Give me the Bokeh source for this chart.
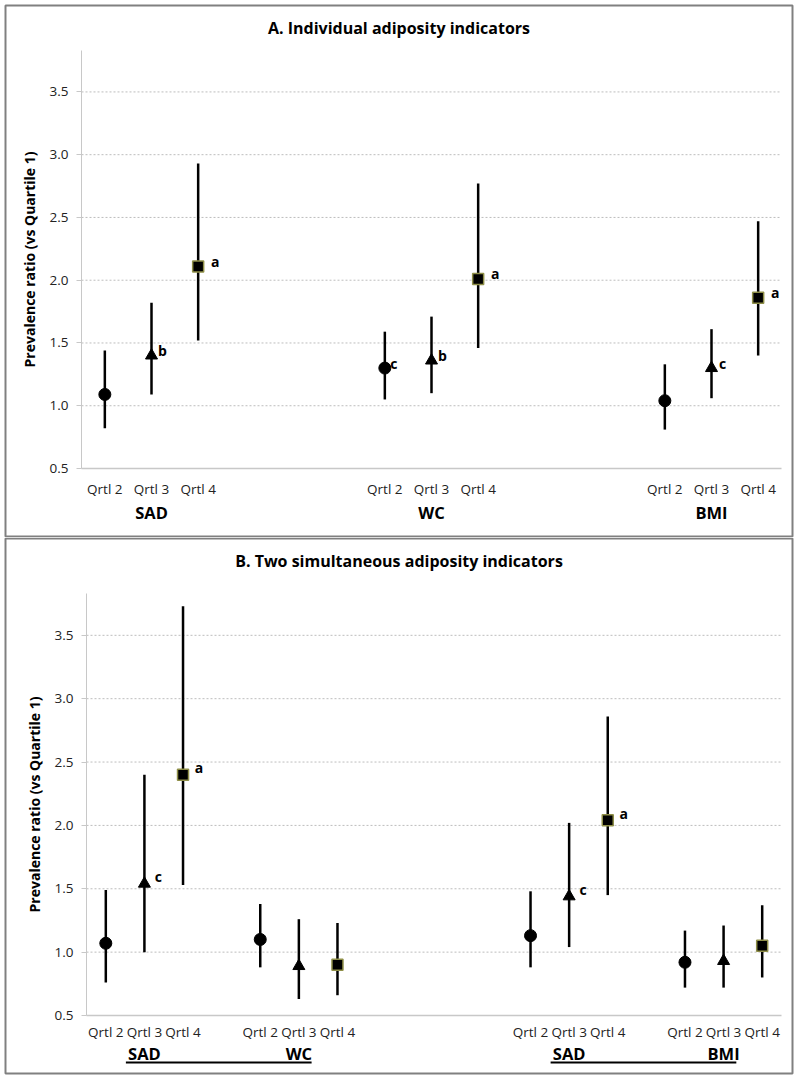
from bokeh.plotting import figure
from bokeh.models import Range1d, FixedTicker, ColumnDataSource, PrintfTickFormatter
from bokeh.layouts import column
from bokeh.embed import file_html
from bokeh.resources import INLINE
from bokeh.core.properties import value

FONT = "Open Sans"

# ---------------- data ----------------
quartile_labels = ["Qrtl 2", "Qrtl 3", "Qrtl 4"]
y_ticks = [0.5, 1.0, 1.5, 2.0, 2.5, 3.0, 3.5]
y_label = "Prevalence ratio (vs Quartile 1)"

# Panel A: individual indicators
a_title = "A. Individual adiposity indicators"
a_groups = ["SAD", "WC", "BMI"]
a_est = [1.09, 1.40, 2.11, 1.30, 1.36, 2.01, 1.04, 1.30, 1.86]
a_low = [0.82, 1.09, 1.52, 1.05, 1.10, 1.46, 0.81, 1.06, 1.40]
a_high = [1.44, 1.82, 2.93, 1.59, 1.71, 2.77, 1.33, 1.61, 2.47]
a_sig = ["", "b", "a", "c", "b", "a", "", "c", "a"]

# Panel B: two simultaneous indicators
b_title = "B. Two simultaneous adiposity indicators"
b_groups = ["SAD", "WC", "SAD", "BMI"]
b_est = [1.07, 1.54, 2.40, 1.10, 0.89, 0.90, 1.13, 1.44, 2.04, 0.92, 0.93, 1.05]
b_low = [0.76, 1.00, 1.53, 0.88, 0.63, 0.66, 0.88, 1.04, 1.45, 0.72, 0.72, 0.80]
b_high = [1.49, 2.40, 3.73, 1.38, 1.26, 1.23, 1.48, 2.02, 2.86, 1.17, 1.21, 1.37]
b_sig = ["", "c", "a", "", "", "", "", "c", "a", "", "", ""]

# ---------------- layout constants ----------------
A_SLOTS, A_STARTS = 15, [0, 6, 12]
B_SLOTS, B_STARTS = 18, [0, 4, 11, 15]
B_PAIRS = [(0, 1), (2, 3)]  # underlined pairs of groups
Y_MIN, Y_MAX = 0.5, 3.83

MARKERS = ["circle", "triangle", "square"]
SIZES = [12, 12, 11]


def make_panel(title, groups, starts, nslots, est, low, high, sig,
               W, H, L, R, T, B, title_py, qlab_standoff,
               group_py, sig_dx, sig_dy, box, pairs=None, underline_py=None):
    # L,R,T,B: pixel edges of the data area inside the canvas
    sx = (R - L) / nslots
    sy = (B - T) / (Y_MAX - Y_MIN)
    x0 = -0.5 - L / sx
    x1 = -0.5 + (W - L) / sx
    y0 = Y_MIN - (H - B) / sy
    y1 = Y_MAX + T / sy

    def to_x(px):
        return x0 + px / sx

    def to_y(py):
        return y1 - py / sy

    p = figure(width=W, height=H, output_backend="svg", toolbar_location=None,
               title=None, x_range=Range1d(x0, x1), y_range=Range1d(y0, y1),
               min_border=0, min_border_left=0, min_border_right=0,
               min_border_top=0, min_border_bottom=0,
               background_fill_color="white", border_fill_color="white")
    p.outline_line_color = None
    p.xgrid.visible = False
    p.ygrid.visible = False

    # panel border
    bl, bt, br, bb = box
    p.quad(left=[to_x(bl)], right=[to_x(br)], top=[to_y(bt)], bottom=[to_y(bb)],
           fill_color=None, line_color="#808080", line_width=2)

    xs = []
    for s in starts:
        xs.extend([s, s + 1, s + 2])
    q = [i % 3 for i in range(len(est))]

    # grid lines (dotted) at the y ticks
    gy = y_ticks[1:]
    p.segment(x0=[-0.5] * len(gy), y0=gy, x1=[nslots - 0.5] * len(gy), y1=gy,
              line_color="#bdbdbd", line_width=1, line_dash="2 2")

    # x axis pinned at y = 0.5
    xa = p.xaxis[0]
    xa.fixed_location = Y_MIN
    xa.bounds = (-0.5, nslots - 0.5)
    xa.ticker = FixedTicker(ticks=xs)
    xa.major_label_overrides = {x: quartile_labels[i % 3] for i, x in enumerate(xs)}
    xa.major_tick_line_color = None
    xa.minor_tick_line_color = None
    xa.axis_line_color = "#c8c8c8"
    xa.axis_line_width = 1.5
    xa.major_label_text_font = FONT
    xa.major_label_text_font_size = "13.5px"
    xa.major_label_text_color = "#222222"
    xa.major_label_standoff = qlab_standoff

    # y axis pinned at left edge of the data area
    ya = p.yaxis[0]
    ya.fixed_location = -0.5
    ya.bounds = (Y_MIN, Y_MAX)
    ya.ticker = FixedTicker(ticks=y_ticks)
    ya.formatter = PrintfTickFormatter(format="%.1f")
    ya.axis_line_color = "#c8c8c8"
    ya.major_tick_line_color = "#c8c8c8"
    ya.major_tick_out = 5
    ya.major_tick_in = 0
    ya.minor_tick_line_color = None
    ya.major_label_text_font = FONT
    ya.major_label_text_font_size = "13.5px"
    ya.major_label_text_color = "#222222"
    ya.major_label_standoff = 8
    ya.axis_label = y_label
    ya.axis_label_text_font = FONT
    ya.axis_label_text_font_size = "14px"
    ya.axis_label_text_font_style = "bold"
    ya.axis_label_text_color = "black"
    ya.axis_label_standoff = 8

    # error bars
    src = ColumnDataSource(dict(x=xs, low=low, high=high))
    p.segment(x0="x", y0="low", x1="x", y1="high", source=src,
              line_color="black", line_width=2.5)
    for k in range(3):
        idx = [i for i in range(len(est)) if q[i] == k]
        s = ColumnDataSource(dict(x=[xs[i] for i in idx], y=[est[i] for i in idx],
                                  t=[sig[i] for i in idx]))
        if k == 2:
            p.scatter("x", "y", source=s, marker=MARKERS[k], size=SIZES[k],
                      fill_color="black", line_color="#8f8f48", line_width=1.5)
        else:
            p.scatter("x", "y", source=s, marker=MARKERS[k], size=SIZES[k],
                      fill_color="black", line_color="black")
        p.text("x", "y", text="t", source=s, x_offset=sig_dx[k], y_offset=sig_dy,
               text_font=value(FONT), text_font_style="bold",
               text_font_size="14px", text_baseline="middle", text_align="center",
               text_color="black")

    # panel title
    p.text(x=[to_x((bl + br) / 2)], y=[to_y(title_py)], text=[title],
           text_font=value(FONT), text_font_size="16px", text_font_style="bold",
           text_align="center", text_baseline="middle", text_color="black")

    # group labels
    p.text(x=[s + 1 for s in starts], y=[to_y(group_py)] * len(starts), text=groups,
           text_font=value(FONT), text_font_size="16.5px", text_font_style="bold",
           text_align="center", text_baseline="middle", text_color="black")

    # underline joining paired group labels
    if pairs is not None:
        ux0 = [starts[i] + 1 - 0.48 for (i, j) in pairs]
        ux1 = [starts[j] + 1 + 0.33 for (i, j) in pairs]
        uy = [to_y(underline_py)] * len(pairs)
        p.segment(x0=ux0, y0=uy, x1=ux1, y1=uy, line_color="black", line_width=2)
    return p


p1 = make_panel(a_title, a_groups, A_STARTS, A_SLOTS, a_est, a_low, a_high, a_sig,
                W=796, H=537, L=81, R=781, T=50, B=468, title_py=27,
                qlab_standoff=5, group_py=512,
                sig_dx=[9, 11, 17], sig_dy=-5, box=(5, 5, 792, 536))

p2 = make_panel(b_title, b_groups, B_STARTS, B_SLOTS, b_est, b_low, b_high, b_sig,
                W=796, H=539, L=86, R=781, T=56, B=478, title_py=23,
                qlab_standoff=1, group_py=516,
                sig_dx=[14, 14, 16], sig_dy=-7, box=(5, 1, 792, 536),
                pairs=B_PAIRS, underline_py=525)

layout = column(p1, p2, spacing=0)
open("out.html", "w").write(file_html(layout, INLINE))
